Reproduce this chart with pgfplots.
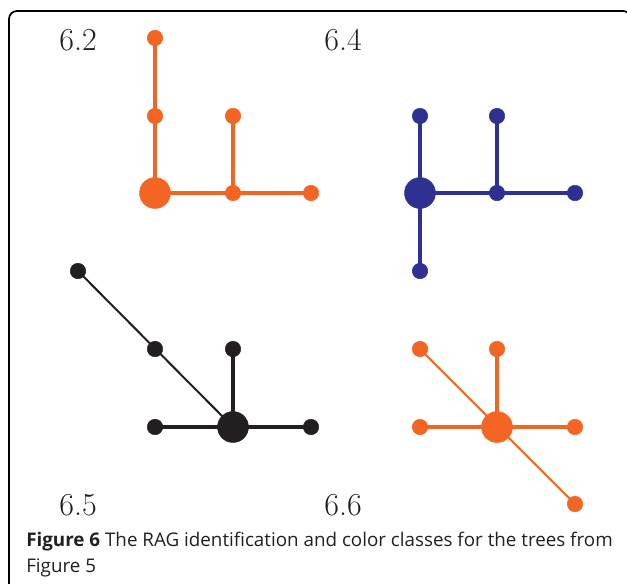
\documentclass[border=0pt]{standalone}
\usepackage{fontspec}
\usepackage{pgfplots}
\pgfplotsset{compat=1.18}
\newfontfamily\capfont{Open Sans}
\definecolor{treeor}{HTML}{F26522}
\definecolor{treebl}{HTML}{2E3192}
\definecolor{treebk}{HTML}{231F20}
\begin{document}
\begin{tikzpicture}
\begin{axis}[
  width=470.25pt, height=437.25pt, scale only axis,
  xmin=0, xmax=627, ymin=0, ymax=583, y dir=reverse,
  hide axis, clip=false,
  edge/.style={no markers, line width=2.3pt},
  diag/.style={no markers, line width=1.5pt},
  small/.style={only marks, mark=*, mark size=5.8pt},
  big/.style={only marks, mark=*, mark size=11.6pt},
]
\coordinate (ll) at (axis cs:0,583);
\coordinate (ur) at (axis cs:627,0);
\draw[line width=1.3pt, rounded corners=6pt] (axis cs:9,11) rectangle (axis cs:631,640);
% Tree 6.2 (orange)
\addplot[edge, treeor] coordinates {(155,38) (155,193)};
\addplot[edge, treeor] coordinates {(233,116) (233,193)};
\addplot[edge, treeor] coordinates {(155,193) (311,193)};
\addplot[small, treeor] coordinates {(155,38) (155,116) (233,116) (233,193) (311,193)};
\addplot[big, treeor] coordinates {(155,193)};
% Tree 6.4 (blue)
\addplot[edge, treebl] coordinates {(420,116) (420,271)};
\addplot[edge, treebl] coordinates {(497,116) (497,193)};
\addplot[edge, treebl] coordinates {(420,193) (575,193)};
\addplot[small, treebl] coordinates {(420,116) (420,271) (497,116) (497,193) (575,193)};
\addplot[big, treebl] coordinates {(420,193)};
% Tree 6.5 (black)
\addplot[diag, treebk] coordinates {(78,271) (233,427)};
\addplot[edge, treebk] coordinates {(233,349) (233,427)};
\addplot[edge, treebk] coordinates {(155,427) (311,427)};
\addplot[small, treebk] coordinates {(78,271) (155,349) (233,349) (155,427) (311,427)};
\addplot[big, treebk] coordinates {(233,427)};
% Tree 6.6 (orange)
\addplot[diag, treeor] coordinates {(420,349) (575,504)};
\addplot[edge, treeor] coordinates {(497,349) (497,427)};
\addplot[edge, treeor] coordinates {(420,427) (575,427)};
\addplot[small, treeor] coordinates {(420,349) (497,349) (420,427) (575,427) (575,504)};
\addplot[big, treeor] coordinates {(497,427)};
% labels
\node[anchor=base, font=\fontsize{24}{28}\selectfont, text=treebk] at (axis cs:78,50) {6.2};
\node[anchor=base, font=\fontsize{24}{28}\selectfont, text=treebk] at (axis cs:343,50) {6.4};
\node[anchor=base, font=\fontsize{24}{28}\selectfont, text=treebk] at (axis cs:78,515) {6.5};
\node[anchor=base, font=\fontsize{24}{28}\selectfont, text=treebk] at (axis cs:343,515) {6.6};
% caption
\node[anchor=base west, inner sep=0pt, font=\capfont\fontsize{14.1}{19.1}\selectfont, text=treebk] at (axis cs:26,546.7) {\textbf{Figure 6} The RAG identification and color classes for the trees from};
\node[anchor=base west, inner sep=0pt, font=\capfont\fontsize{14.1}{19.1}\selectfont, text=treebk] at (axis cs:26,572) {Figure 5};
\end{axis}
\pgfresetboundingbox
\path[use as bounding box] (ll) rectangle (ur);
\end{tikzpicture}
\end{document}
